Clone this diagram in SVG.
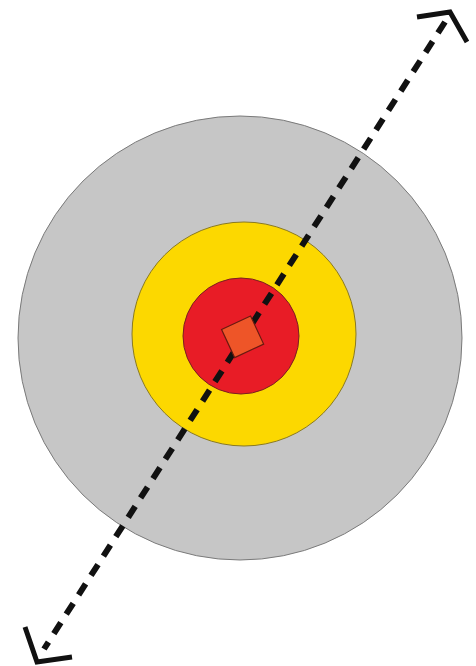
<svg xmlns="http://www.w3.org/2000/svg" width="476" height="666" viewBox="0 0 476 666">
<style>
.ring{stroke-width:1}
.dash{fill:none;stroke:#111;stroke-width:6;stroke-dasharray:13 10}
.chev{fill:none;stroke:#111;stroke-width:5;stroke-linejoin:miter}
</style>
<rect width="476" height="666" fill="#fff"/>
<g id="outer"><circle class="ring" cx="240" cy="338" r="222" fill="#C6C6C6" stroke="#7a7a7a"/></g>
<g id="middle"><circle class="ring" cx="244" cy="334" r="112" fill="#FCD800" stroke="#8a7a20"/></g>
<g id="inner"><circle class="ring" cx="241" cy="336" r="58" fill="#E81C26" stroke="#7a2020"/></g>
<g id="connectors">
<line class="dash" x1="445" y1="22" x2="44" y2="649"/>
<polyline class="chev" points="417,17 450,12 467,42"/>
<polyline class="chev" points="25,627 37,662 72,657"/>
</g>
<g id="core"><rect x="-16" y="-15.5" width="32" height="31" transform="translate(242.6 336.8) rotate(-25)" fill="#EE5528" stroke="#6a1a10" stroke-width="1.2"/></g>
</svg>
